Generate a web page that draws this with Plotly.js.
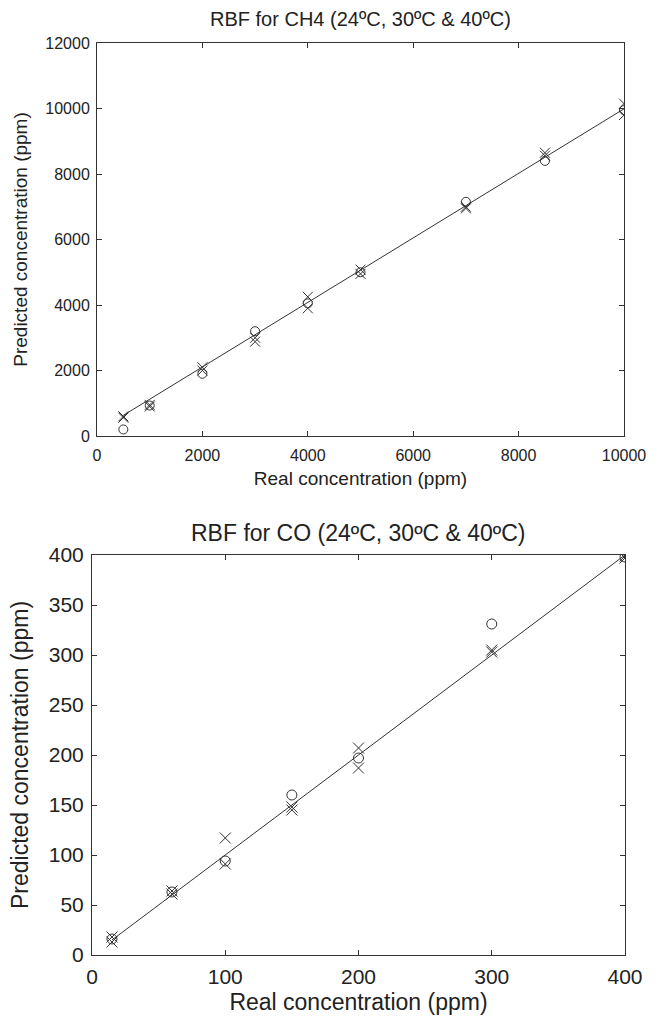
<!DOCTYPE html>
<html>
<head>
<meta charset="utf-8">
<script src="https://cdn.plot.ly/plotly-3.0.1.min.js"></script>
<style>html,body{margin:0;padding:0;background:#fff}#chart{width:656px;height:1016px}</style>
</head>
<body>
<div id="chart"></div>
<script>
// ---- CH4 data (ppm) ----
var ch4Real = [500, 1000, 2000, 3000, 4000, 5000, 7000, 8500, 10000];
var ch4_24C = [200, 930, 1900, 3200, 4050, 5000, 7150, 8400, 9950];   // circles
var ch4_30C = [600, 950, 2100, 3000, 4250, 5080, 7000, 8650, 10150];  // crosses
var ch4_40C = [560, 900, 2000, 2880, 3900, 4950, 6950, 8560, 9800];   // crosses
var ch4FitX = [500, 10000];
var ch4FitY = [630, 9990];

// ---- CO data (ppm) ----
var coReal = [15, 60, 100, 150, 200, 300, 400];
var co_24C = [16, 63, 94, 160, 197, 331, 398];
var co_30C = [18, 64, 117, 148, 207, 305, 399];
var co_40C = [13, 61, 91, 145, 187, 303, 397];
var coFitX = [15, 400];
var coFitY = [15, 400];

var titleCH4 = 'RBF for CH4 (24ºC, 30ºC & 40ºC)';
var titleCO = 'RBF for CO (24ºC, 30ºC & 40ºC)';
var xLabel = 'Real concentration (ppm)';
var yLabel = 'Predicted concentration (ppm)';

var ink = '#333';
var txt = '#222';
var FONT = 'Liberation Sans, Arial, Helvetica, sans-serif';

function pts(x, y, sym, xa, ya, sz) {
  return {x: x, y: y, xaxis: xa, yaxis: ya, mode: 'markers', type: 'scatter',
    marker: {symbol: sym, size: sz, color: ink, line: {color: ink, width: 1}},
    showlegend: false, hoverinfo: 'skip'};
}
function fit(x, y, xa, ya) {
  return {x: x, y: y, xaxis: xa, yaxis: ya, mode: 'lines', type: 'scatter',
    line: {color: ink, width: 1}, showlegend: false, hoverinfo: 'skip'};
}

var data = [
  fit(ch4FitX, ch4FitY, 'x', 'y'),
  pts(ch4Real, ch4_24C, 'circle-open', 'x', 'y', 9),
  pts(ch4Real, ch4_30C, 'x-thin-open', 'x', 'y', 10),
  pts(ch4Real, ch4_40C, 'x-thin-open', 'x', 'y', 10),
  fit(coFitX, coFitY, 'x2', 'y2'),
  pts(coReal, co_24C, 'circle-open', 'x2', 'y2', 10),
  pts(coReal, co_30C, 'x-thin-open', 'x2', 'y2', 11),
  pts(coReal, co_40C, 'x-thin-open', 'x2', 'y2', 11)
];

function axis(dom, range, dtick, anchor, fs, tfs, title, standoff, lblOff) {
  return {domain: dom, range: range, dtick: dtick, tick0: 0, anchor: anchor,
    tickformat: 'd', exponentformat: 'none',
    showgrid: false, zeroline: false, showline: true, mirror: 'ticks',
    linecolor: ink, linewidth: 1, ticks: 'inside', ticklen: 5, tickcolor: ink,
    ticklabelstandoff: lblOff,
    tickfont: {family: FONT, size: fs, color: txt},
    title: {text: title, font: {family: FONT, size: tfs, color: txt}, standoff: standoff},
    automargin: false, fixedrange: true};
}

var layout = {
  width: 656, height: 1016,
  margin: {l: 0, r: 0, t: 0, b: 0},
  paper_bgcolor: '#fff', plot_bgcolor: '#fff',
  xaxis: axis([97/656, 624/656], [0, 10000], 2000, 'y', 16, 19, xLabel, 8, 5),
  yaxis: axis([1-436/1016, 1-43/1016], [0, 12000], 2000, 'x', 16, 19, yLabel, 12, 3),
  xaxis2: axis([92/656, 625/656], [0, 400], 100, 'y2', 21, 23, xLabel, 6, 3),
  yaxis2: axis([1-955/1016, 1-555/1016], [0, 400], 50, 'x2', 21, 23, yLabel, 13, 3),
  annotations: [
    {text: titleCH4, xref: 'paper', yref: 'paper', x: 360/656, y: 1-19/1016, xanchor: 'center', yanchor: 'middle',
     showarrow: false, font: {family: FONT, size: 20, color: txt}},
    {text: titleCO, xref: 'paper', yref: 'paper', x: 358/656, y: 1-533/1016, xanchor: 'center', yanchor: 'middle',
     showarrow: false, font: {family: FONT, size: 23, color: txt}}
  ]
};

Plotly.newPlot('chart', data, layout, {staticPlot: true, displayModeBar: false});
</script>
</body>
</html>
